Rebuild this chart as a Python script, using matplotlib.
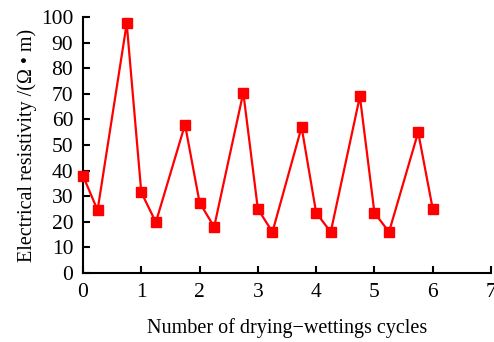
import numpy as np
import matplotlib.pyplot as plt

plt.rcParams['font.family'] = ['Liberation Serif', 'DejaVu Serif']

# resistivity measured through the drying/wetting cycles
cycles = [0, 0.25, 0.75, 1, 1.25, 1.75, 2, 2.25, 2.75, 3, 3.25,
          3.75, 4, 4.25, 4.75, 5, 5.25, 5.75, 6]
resistivity = [38, 24.5, 97.5, 31.5, 19.8, 58, 27.5, 18, 70.5, 25, 16,
               57, 23.5, 16, 69, 23.5, 16, 55, 25]

fig = plt.figure(figsize=(4.94, 3.42), dpi=100)
ax = fig.add_axes([0.168, 0.202, 0.826, 0.748])

ax.plot(cycles, resistivity, color='#ff0000', lw=1.6, marker='s',
        markersize=7, clip_on=False, zorder=3)

ax.set_xlim(0, 7)
ax.set_ylim(0, 100)
ax.set_xticks(np.arange(0, 8, 1))
ax.set_yticks(np.arange(0, 101, 10))
ax.spines['top'].set_visible(False)
ax.spines['right'].set_visible(False)
for s in ['left', 'bottom']:
    ax.spines[s].set_linewidth(1.5)
ax.tick_params(direction='in', length=5, width=1.5, labelsize=15.5, pad=7)

ax.set_xlabel('Number of drying\u2212wettings cycles', fontsize=14.5, labelpad=12)
ax.set_ylabel('Electrical resistivity /(\u03a9 \u2022 m)', fontsize=14.5, labelpad=3)

fig.savefig('out.png', dpi=100)
